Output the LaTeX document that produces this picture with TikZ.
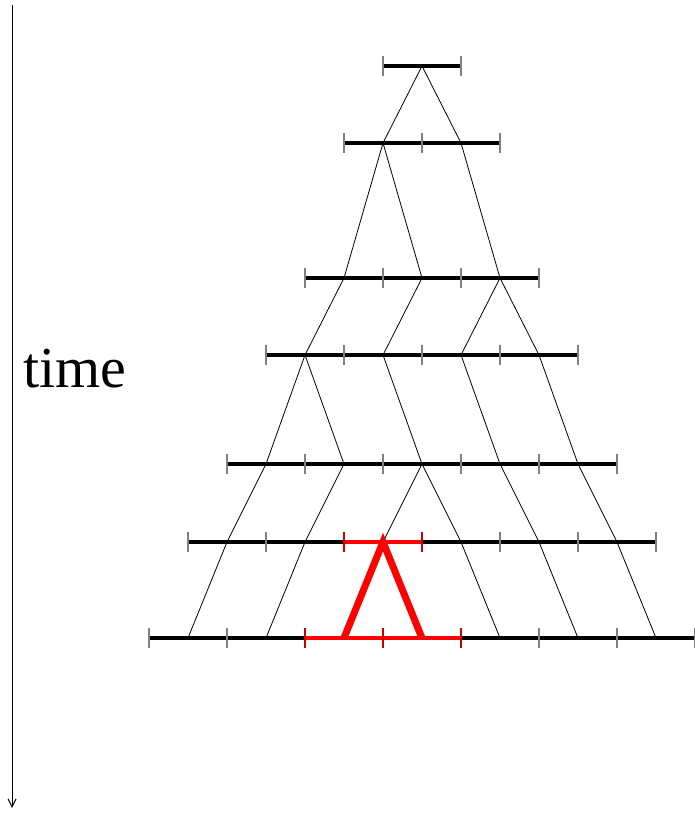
\documentclass[tikz,border=0pt]{standalone}
\usepackage{fontspec}
\setmainfont{Liberation Serif}
\usetikzlibrary{arrows.meta}

\begin{document}
\begin{tikzpicture}[
        x=39pt, y=-1pt,
        level/.style={line width=4pt},
        tickmark/.style={gray, line width=1.8pt},
        branch/.style={line width=0.8pt},
        hot/.style={red, line width=4pt},
        hottick/.style={red!80!black, line width=1.8pt},
        lambda/.style={red, line width=7pt, line join=miter},
        timeaxis/.style={-{Straight Barb[length=8pt,width=8pt]}, line width=1pt}
    ]
        \useasboundingbox (-149pt,0pt) rectangle (545pt,-814pt);
        % time axis
        \coordinate (ttop) at (-3.51,5);
        \coordinate (tbot) at (-3.51,808);
        \draw[timeaxis] (ttop) -- (tbot);
        \node[anchor=base, font=\fontsize{58}{70}\selectfont, inner sep=0pt] (tlabel) at (-1.9,387) {time};
        % levels with their points
        \foreach \n/\y in {1/66,2/143,3/278,4/355,5/464,6/542,7/638} {
            \pgfmathtruncatemacro\first{7-\n}
            \pgfmathtruncatemacro\second{9-\n}
            \pgfmathtruncatemacro\last{7+\n}
            \foreach \p in {\first,...,\last}
                \coordinate (l\n-\p) at (\p,\y);
            \draw[level] (l\n-\first) -- (l\n-\last);
            \foreach \p in {\first,\second,...,\last}
                \draw[tickmark] ([yshift=10pt]l\n-\p) -- ([yshift=-10pt]l\n-\p);
        }
        % branches
        \foreach \a/\b/\c/\d in {1/7/2/6, 1/7/2/8,
                2/6/3/5, 2/6/3/7, 2/8/3/9,
                3/5/4/4, 3/7/4/6, 3/9/4/8, 3/9/4/10,
                4/4/5/3, 4/4/5/5, 4/6/5/7, 4/8/5/9, 4/10/5/11,
                5/3/6/2, 5/5/6/4, 5/7/6/6, 5/7/6/8, 5/9/6/10, 5/11/6/12,
                6/2/7/1, 6/4/7/3, 6/8/7/9, 6/10/7/11, 6/12/7/13}
            \draw[branch] (l\a-\b) -- (l\c-\d);
        % highlighted part
        \draw[hot] (l6-5) -- (l6-7);
        \draw[hot] (l7-4) -- (l7-8);
        \foreach \p in {5,7}
            \draw[hottick] ([yshift=10pt]l6-\p) -- ([yshift=-10pt]l6-\p);
        \foreach \p in {4,6,8}
            \draw[hottick] ([yshift=10pt]l7-\p) -- ([yshift=-10pt]l7-\p);
        \draw[lambda] (l7-5) -- (l6-6) -- (l7-7);
    \end{tikzpicture}
\end{document}
